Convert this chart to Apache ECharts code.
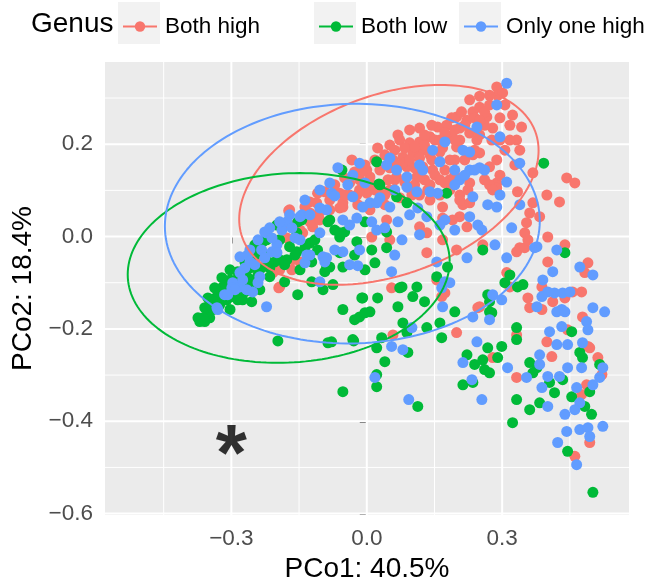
<!DOCTYPE html>
<html>
<head>
<meta charset="utf-8">
<script src="https://cdn.jsdelivr.net/npm/echarts@6/dist/echarts.min.js"></script>
<style>
  html, body { margin: 0; padding: 0; background: #ffffff; }
  #chart { width: 646px; height: 583px; }
</style>
</head>
<body>
<div id="chart"></div>
<script>
// PCoA scores (PCo1, PCo2) per sample, grouped by genus abundance class
const bothHigh = [
[-0.173,0.056],[-0.248,-0.050],[-0.193,-0.109],[-0.166,-0.072],[-0.111,0.073],[-0.122,0.030],[-0.148,0.014],[-0.177,-0.003],[-0.148,-0.055],[-0.060,0.094],[-0.053,0.064],[-0.111,0.043],
[0.051,0.198],[0.080,0.172],[0.111,0.181],[0.066,0.129],[0.089,0.151],[-0.038,0.116],[-0.016,0.123],[0.007,0.129],[0.029,0.107],[0.051,0.101],[0.000,0.094],[-0.053,0.073],[-0.060,0.062],[0.044,0.036],[0.011,-0.001],[0.051,-0.007],[-0.120,0.030],[-0.126,0.075],[-0.109,0.094],
[0.288,0.324],[0.290,0.306],[0.301,0.311],[0.250,0.280],[0.235,0.270],[0.266,0.259],[0.222,0.252],[0.199,0.259],[0.177,0.241],[0.157,0.237],[0.140,0.216],[0.117,0.205],[0.095,0.203],[0.073,0.209],[0.206,0.235],[0.184,0.216],[0.168,0.192],[0.199,0.194],[0.228,0.224],[0.244,0.209],[0.279,0.235],[0.295,0.257],[0.295,0.209],[0.250,0.181],[0.235,0.177],[0.124,0.187],[0.102,0.181],[0.080,0.159],[0.058,0.166],[0.111,0.129],[0.124,0.151],[0.146,0.144],[0.272,0.151],[0.288,0.116],[0.184,0.123],[0.184,0.101],[0.140,0.112],
[0.343,0.237],[0.323,0.263],[0.332,0.209],[0.339,0.187],[0.368,0.138],[0.288,0.166],[0.288,0.105],[0.334,0.097],[0.368,0.073],[0.399,0.090],[0.427,0.075],[0.443,0.127],[0.461,0.116],[0.383,0.043],[0.361,0.051],[0.354,0.030],[0.350,0.008],[0.401,-0.001],[0.339,-0.024],[0.332,-0.033],[0.257,-0.018],[0.199,-0.029],[0.206,0.043],[0.228,0.073],[0.213,0.069],[0.222,0.021],[0.190,0.036],[0.168,0.040],[0.272,0.112],[0.279,0.101],[0.439,-0.018],[0.401,-0.055],[0.490,-0.057],[0.483,-0.078],[0.310,-0.078],[0.155,-0.094],
[0.350,-0.024],[0.357,-0.007],[0.317,-0.109],[0.388,-0.109],[0.476,-0.120],[0.456,-0.120],[0.439,-0.133],[0.412,-0.141],[0.357,-0.133],[0.361,-0.154],[0.388,-0.158],[0.478,-0.174],[0.250,-0.152],[0.332,-0.213],[0.399,-0.228],[0.445,-0.202],[0.490,-0.238],[0.410,-0.260],[0.279,-0.262],[0.512,-0.262],[0.521,-0.299],
[0.055,-0.111],[0.058,-0.213],[0.199,-0.208],[0.246,-0.154],[0.166,-0.130],[0.173,-0.122],[0.332,-0.305],[0.494,-0.446],[0.461,-0.476],[0.487,-0.321],[0.476,-0.342],[0.494,-0.241],
[0.000,0.144],[-0.022,0.090],[-0.171,0.058],[-0.126,0.051],[-0.120,0.021],[-0.142,0.008],[-0.244,-0.044],[-0.164,-0.050],[-0.208,-0.078],[-0.195,-0.111],[-0.193,-0.072],
[0.040,0.177],[0.062,0.187],[0.084,0.192],[0.106,0.194],[0.128,0.198],[0.151,0.209],[0.173,0.224],[0.195,0.231],[0.217,0.241],[0.239,0.257],[0.261,0.270],[0.272,0.285],[0.018,0.166],[-0.004,0.155],[-0.027,0.140],[-0.049,0.127],[-0.071,0.112],[-0.093,0.097],[-0.137,0.064],[0.029,0.144],[0.051,0.149],[0.073,0.155],[0.095,0.166],[0.117,0.170],[0.140,0.177],[0.162,0.183],[0.206,0.209],[0.250,0.220],[0.261,0.241],[0.062,0.123],[0.084,0.118],[0.106,0.112],[0.128,0.123],[0.151,0.133],[0.173,0.144],[0.195,0.166],[0.217,0.166],[0.239,0.187],[-0.016,0.101],[-0.038,0.090],[-0.082,0.079],[-0.104,0.053],[-0.126,0.032],[0.018,0.101],[0.040,0.090],[0.117,0.090],[0.140,0.079],[0.162,0.090],[0.206,0.090],[0.224,0.101],[0.117,0.021],[0.133,0.008],[0.133,-0.035],[0.168,-0.007],[0.117,0.129],[0.173,0.116],[0.168,0.064],[0.206,0.079],
[0.069,0.220],[0.095,0.231],[0.117,0.235],[0.144,0.241],[0.188,0.257],[0.210,0.270],[0.228,0.296],[0.250,0.304],[0.272,0.306],[0.306,0.285],[0.317,0.241],[0.306,0.187],[0.328,0.155],[0.295,0.133],[0.261,0.123],[0.228,0.116],[0.195,0.133],[0.162,0.123],[0.135,0.101],[0.100,0.090],[0.073,0.084],[0.040,0.069],[0.007,0.058],[-0.020,0.069],[-0.049,0.090],[-0.082,0.058],[-0.104,0.036],[-0.148,0.036],[-0.171,0.025],[0.162,0.209],[0.195,0.209],[0.144,0.166],[0.106,0.149],[0.184,0.166],[0.128,0.220],[0.011,0.112],[-0.011,0.140],[-0.033,0.166],[0.024,0.192],[0.047,0.123],[0.095,0.105],[0.250,0.252],[0.277,0.209],[0.317,0.209]
];

const bothLow = [
[-0.199,0.025],[-0.230,-0.011],[-0.266,-0.087],[-0.215,-0.087],[-0.182,-0.098],[-0.153,-0.126],[-0.332,-0.130],[-0.315,-0.115],[-0.354,-0.158],[-0.303,-0.094],[-0.153,0.032],[-0.126,-0.014],[-0.171,-0.022],[-0.155,-0.033],[-0.177,-0.050],[-0.093,-0.076],[-0.053,-0.066],[-0.097,-0.115],[-0.075,-0.104],[-0.053,-0.158],[-0.060,-0.001],[-0.071,0.014],[-0.086,0.032],
[0.022,0.162],[-0.055,0.144],[0.027,0.114],[0.066,0.086],[0.089,0.073],[-0.082,0.036],[-0.004,0.032],[0.044,0.010],[-0.022,-0.011],[0.044,-0.024],[-0.144,0.036],[0.177,0.094],[0.392,0.159],[0.257,-0.029],[0.029,0.112],[0.018,-0.057],[0.179,-0.066],[0.078,-0.109],[0.111,-0.109],
[0.439,-0.035],[0.317,-0.083],[0.306,-0.100],[0.346,-0.104],[0.334,-0.109],[0.268,-0.126],[0.272,-0.141],[0.272,-0.163],[0.332,-0.197],[0.332,-0.223],[0.454,-0.206],[0.472,-0.251],[0.478,-0.262],[0.268,-0.241],[0.299,-0.238],[0.290,-0.262],[0.239,-0.277],[0.261,-0.288],[0.272,-0.295],[0.361,-0.273],[0.368,-0.295],[0.516,-0.277],
[0.073,-0.111],[0.102,-0.130],[0.128,-0.141],[0.069,-0.152],[0.024,-0.133],[-0.009,-0.133],[0.007,-0.163],[-0.016,-0.174],[0.080,-0.187],[0.033,-0.219],[0.022,-0.241],[0.089,-0.208],[0.133,-0.197],[0.162,-0.187],[0.166,-0.219],[0.091,-0.251],[0.040,-0.271],[0.022,-0.299],[0.022,-0.325],[0.113,-0.368],[0.195,-0.163],[0.222,-0.256],[0.213,-0.321],[0.235,-0.316],[0.257,-0.267],[0.277,-0.165],[0.155,-0.087],[0.323,-0.403],[0.332,-0.353],[0.377,-0.284],[0.361,-0.375],[0.383,-0.360],[0.405,-0.316],[0.416,-0.338],[0.434,-0.310],[0.454,-0.347],[0.483,-0.368],[0.498,-0.385],[0.445,-0.465],[0.501,-0.554],[0.494,-0.336],
[-0.027,-0.180],[-0.004,-0.165],[-0.031,-0.223],[-0.078,-0.228],[-0.060,0.008],[-0.155,0.008],[-0.222,-0.007],[-0.193,-0.050],[-0.060,-0.035],[-0.089,-0.066],[-0.253,-0.066],
[-0.370,-0.184],[-0.341,-0.158],[-0.348,-0.176],[-0.310,-0.137],[-0.319,-0.109],[-0.297,-0.130],[-0.281,-0.115],[-0.275,-0.137],[-0.303,-0.158],[-0.253,-0.094],[-0.237,-0.115],[-0.255,-0.141],[-0.082,-0.066],[-0.197,-0.226],[-0.086,-0.230],[-0.029,-0.226],[-0.053,-0.336],[-0.011,-0.133],
[-0.248,-0.040],[-0.226,-0.040],[-0.204,-0.055],[-0.182,-0.061],[-0.159,-0.040],[-0.137,-0.024],[-0.115,-0.007],[-0.193,-0.007],[-0.215,-0.068],[-0.270,-0.055],[-0.286,-0.076],[-0.363,-0.176],[-0.337,-0.148],[-0.326,-0.148],[-0.321,-0.126],[-0.308,-0.122],[-0.290,-0.094],[-0.277,-0.104],[-0.264,-0.089],[-0.359,-0.154],[-0.343,-0.137],[-0.328,-0.120],[-0.312,-0.104],[-0.272,-0.072],[-0.259,-0.068],
[-0.374,-0.176],[-0.359,-0.184],[-0.348,-0.148],[-0.315,-0.137],[-0.286,-0.137],[-0.270,-0.120],[-0.255,-0.104],[-0.241,-0.083],[-0.233,-0.068],[-0.219,-0.055],[-0.303,-0.072],[-0.321,-0.089],[-0.337,-0.111],[-0.352,-0.133],[-0.248,-0.018],
[-0.148,-0.072],[-0.122,-0.055],[-0.109,-0.029],[-0.049,0.010],[-0.027,-0.040],[0.011,-0.029],[-0.004,-0.072],[-0.122,-0.098]
];

const onlyOneHigh = [
[-0.177,0.032],[-0.226,0.010],[-0.199,-0.018],[-0.210,-0.033],[-0.259,-0.029],[-0.270,-0.068],[-0.297,-0.100],[-0.281,-0.109],[-0.237,-0.087],[-0.137,-0.057],[-0.222,-0.152],[-0.332,-0.154],[-0.144,0.047],[-0.104,0.008],[-0.159,-0.003],[-0.133,-0.040],[-0.053,-0.033],[-0.089,-0.046],[-0.104,-0.098],[-0.078,0.094],[-0.082,0.116],[-0.089,0.058],[-0.053,0.036],
[0.124,0.144],[0.044,0.155],[0.089,0.107],[0.111,0.097],[0.051,0.064],[-0.031,0.086],[0.007,0.073],[0.029,0.084],[-0.022,0.040],[0.069,0.032],[0.022,0.014],[0.078,-0.007],[-0.016,-0.029],[-0.104,0.062],[-0.097,-0.044],[0.133,0.043],[0.113,0.062],
[0.310,0.332],[0.288,0.285],[0.244,0.237],[0.295,0.216],[0.213,0.187],[0.173,0.205],[0.146,0.187],[0.066,0.144],[0.089,0.129],[0.206,0.123],[0.228,0.144],[0.250,0.149],[0.235,0.086],[0.310,0.118],[0.157,0.094],
[0.339,0.159],[0.288,0.064],[0.321,0.019],[0.377,-0.022],[0.310,-0.046],[0.284,-0.018],[0.222,-0.046],[0.228,0.043],[0.246,0.025],[0.173,0.036],[0.055,-0.076],[0.155,-0.055],[0.173,-0.098],[0.421,-0.029],[0.412,-0.076],[0.472,-0.066],[0.501,-0.083],[0.390,-0.094],[0.372,-0.024],
[0.401,-0.120],[0.416,-0.122],[0.434,-0.122],[0.450,-0.120],[0.432,-0.158],[0.388,-0.130],[0.377,-0.152],[0.421,-0.163],[0.439,-0.163],[0.501,-0.154],[0.527,-0.163],[0.487,-0.184],[0.490,-0.202],[0.279,-0.126],[0.299,-0.137],[0.235,-0.174],[0.272,-0.180],[0.405,-0.206],[0.421,-0.234],[0.445,-0.234],[0.432,-0.195],[0.478,-0.230],[0.383,-0.256],[0.244,-0.228],[0.312,-0.284],[0.383,-0.277],[0.401,-0.303],[0.445,-0.284],[0.476,-0.284],[0.523,-0.284],[0.427,-0.303],
[0.100,-0.197],[0.080,-0.245],[0.018,-0.305],[0.093,-0.353],[0.233,-0.310],[0.255,-0.353],[0.213,-0.273],[0.168,-0.152],[0.166,-0.111],[0.354,-0.305],[0.401,-0.368],[0.388,-0.327],[0.472,-0.360],[0.461,-0.375],[0.439,-0.385],[0.443,-0.422],[0.472,-0.418],[0.490,-0.414],[0.494,-0.433],[0.523,-0.411],[0.423,-0.446],[0.465,-0.494],[0.501,-0.321],[0.516,-0.305],[0.465,-0.327],
[-0.020,-0.063],[0.184,-0.100],[0.055,-0.238],[-0.016,0.159],[-0.031,0.133],[-0.009,0.064],[0.022,0.073],[-0.148,0.043],[-0.222,0.008],[-0.281,-0.044],[-0.199,-0.035],[-0.330,-0.158],[-0.266,-0.115],[-0.253,-0.120],[-0.281,-0.078],[-0.093,-0.055],
[0.051,0.170],[0.117,0.155],[0.162,0.162],[-0.004,0.116],[-0.071,0.088],[0.195,0.144],[0.140,0.097],[0.062,0.101],[-0.126,0.047],[-0.042,0.112],[0.228,0.183],[0.195,0.112],[0.217,0.133],[0.239,0.144],[0.261,0.144],[-0.233,-0.029],[-0.210,-0.003],[-0.188,0.014],[-0.166,0.019],[-0.148,-0.007],[-0.126,-0.040],[-0.259,-0.055],[-0.241,-0.100],[-0.315,-0.126],[-0.299,-0.111],
[-0.064,0.149],[-0.104,0.101],[-0.137,0.079],[-0.171,0.047],[-0.193,0.032],[-0.215,0.019],[-0.241,-0.007],[0.011,0.032],[0.040,0.019],[-0.038,0.025],[0.095,0.047],[0.117,0.004],[0.062,-0.040],[-0.038,-0.061],[-0.071,-0.029],[0.162,0.025],[0.195,0.014],[0.268,0.069],[0.295,0.090],[0.339,0.069],[0.255,0.014],
[-0.292,-0.115],[-0.275,-0.094],[-0.308,-0.126],[-0.248,-0.061],[-0.226,-0.046],[-0.264,-0.040]
];

// Confidence ellipses: centre x, centre y, var(x), cov(x,y), var(y)
const ellipseBothHigh = [0.049, 0.112, 0.1100, 0.0247, 0.0468];
const ellipseBothLow = [-0.173, -0.068, 0.1272, 0.0051, 0.0422];
const ellipseOnlyOne = [-0.032, 0.028, 0.1725, 0.0024, 0.0673];

// Axis ticks and panel grid
const xTicks = [-0.3, 0, 0.3];
const yTicks = [-0.6, -0.4, -0.2, 0, 0.2];
const xMinorGrid = [-0.45, -0.15, 0.15, 0.45];
const yMinorGrid = [-0.5, -0.3, -0.1, 0.1, 0.3];
const xRange = [-0.58, 0.581];
const yRange = [-0.603, 0.378];

// Significance marker
const starAt = [-0.3, -0.48];

const groupNames = ['Both high', 'Both low', 'Only one high'];
const groupColors = ['#F8766D', '#00BA38', '#619CFF'];
const groupPoints = [bothHigh, bothLow, onlyOneHigh];
const groupEllipses = [ellipseBothHigh, ellipseBothLow, ellipseOnlyOne];

const FONT = '"Liberation Sans", Arial, Helvetica, sans-serif';

// Trace an ellipse outline from its centre and covariance (Cholesky factor)
function ellipsePath(e) {
  const [cx, cy, vx, cxy, vy] = e;
  const a = Math.sqrt(vx);
  const c = cxy / a;
  const b = Math.sqrt(vy - c * c);
  const pts = [];
  const n = 180;
  for (let k = 0; k <= n; k++) {
    const t = 2 * Math.PI * k / n;
    pts.push([cx + a * Math.cos(t), cy + c * Math.cos(t) + b * Math.sin(t)]);
  }
  return pts;
}

const fmt = v => {
  const s = (Math.abs(v) < 1e-9 ? 0 : v).toFixed(1);
  return s.replace('-', '\u2212');
};

const series = [];

// white panel grid lines
function gridLine(data, width) {
  series.push({
    type: 'line', data: data, symbol: 'none', silent: true, z: 0,
    lineStyle: { color: '#FFFFFF', width: width }, animation: false
  });
}
xMinorGrid.forEach(x => gridLine([[x, yRange[0]], [x, yRange[1]]], 1));
yMinorGrid.forEach(y => gridLine([[xRange[0], y], [xRange[1], y]], 1));
xTicks.forEach(x => gridLine([[x, yRange[0]], [x, yRange[1]]], 2));
yTicks.forEach(y => gridLine([[xRange[0], y], [xRange[1], y]], 2));

// ellipses (listed first so the legend keys use the line + dot glyph)
groupNames.forEach((name, i) => {
  series.push({
    name: name, type: 'line', data: ellipsePath(groupEllipses[i]),
    symbol: 'none', smooth: false, silent: true, z: 4,
    itemStyle: { color: groupColors[i] },
    lineStyle: { color: groupColors[i], width: 2 }
  });
});

// sample points
groupNames.forEach((name, i) => {
  series.push({
    name: name, type: 'scatter', data: groupPoints[i],
    symbol: 'circle', symbolSize: 11, z: 3,
    itemStyle: { color: groupColors[i], opacity: 1 }
  });
});

// asterisk annotation
series.push({
  type: 'scatter', data: [starAt], symbolSize: 0, silent: true, z: 5,
  label: {
    show: true, position: 'inside', formatter: '*',
    fontSize: 80, fontWeight: 'bold', fontFamily: FONT, color: '#000000'
  }
});

const legendLefts = [122, 318, 463];
const legendBoxes = [118, 314, 459];

const option = {
  animation: false,
  backgroundColor: '#FFFFFF',
  title: {
    text: 'Genus', left: 31, top: 10, padding: 0,
    textStyle: { fontFamily: FONT, fontSize: 28, fontWeight: 'normal', color: '#000000' }
  },
  graphic: legendBoxes.map(x => ({
    type: 'rect', left: x, top: 2, z: -1,
    shape: { width: 42, height: 42 },
    style: { fill: '#F2F2F2' }
  })),
  legend: groupNames.map((name, i) => ({
    data: [name], left: legendLefts[i], top: 15, padding: 0,
    itemWidth: 34, itemHeight: 13, selectedMode: false,
    textStyle: { fontFamily: FONT, fontSize: 22.5, color: '#000000', padding: [0, 0, 0, 3] }
  })),
  grid: {
    left: 105, right: 17, top: 62, bottom: 68,
    show: true, backgroundColor: '#EBEBEB', borderWidth: 0,
    outerBoundsMode: 'none', containLabel: false
  },
  xAxis: {
    type: 'value', min: xRange[0], max: xRange[1],
    splitLine: { show: false },
    axisLine: { show: false },
    axisTick: { show: true, customValues: xTicks, length: 7, lineStyle: { color: '#333333', width: 1.5 } },
    axisLabel: { customValues: xTicks, formatter: fmt, margin: 12, fontSize: 22.5, fontFamily: FONT, color: '#4D4D4D' },
    name: 'PCo1: 40.5%', nameLocation: 'middle', nameGap: 40,
    nameTextStyle: { fontSize: 28, fontFamily: FONT, color: '#000000' }
  },
  yAxis: {
    type: 'value', min: yRange[0], max: yRange[1],
    splitLine: { show: false },
    axisLine: { show: false },
    axisTick: { show: true, customValues: yTicks, length: 7, lineStyle: { color: '#333333', width: 1.5 } },
    axisLabel: { customValues: yTicks, formatter: fmt, margin: 12, fontSize: 22.5, fontFamily: FONT, color: '#4D4D4D' },
    name: 'PCo2: 18.4%', nameLocation: 'middle', nameGap: 64,
    nameTextStyle: { fontSize: 28, fontFamily: FONT, color: '#000000' }
  },
  series: series
};

const chart = echarts.init(document.getElementById('chart'), null, { renderer: 'canvas' });
chart.setOption(option);
</script>
</body>
</html>
